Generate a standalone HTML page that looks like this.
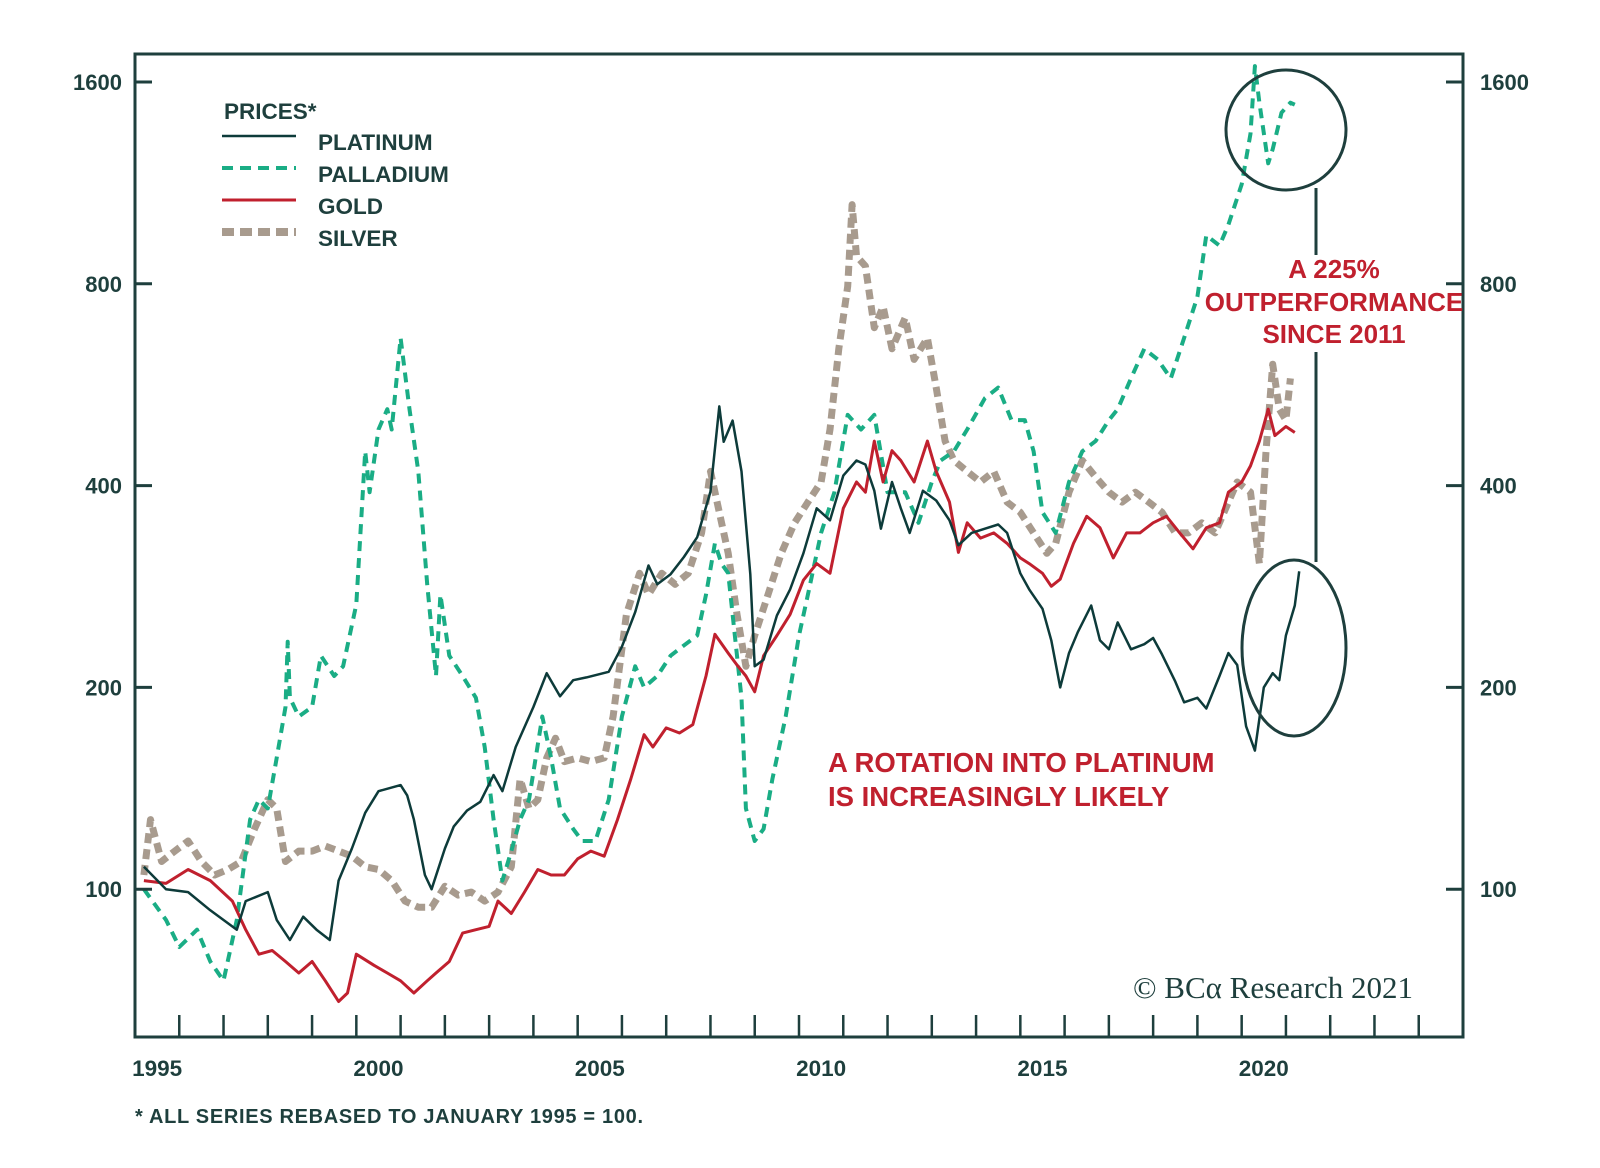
<!DOCTYPE html>
<html><head><meta charset="utf-8"><style>
html,body{margin:0;padding:0;background:#fff;}
svg{display:block;font-family:"Liberation Sans",sans-serif;}
</style></head><body>
<svg id="chart" width="1600" height="1168" viewBox="0 0 1600 1168" xmlns="http://www.w3.org/2000/svg">
<rect width="1600" height="1168" fill="#fff"/>
<g id="series"></g>
<rect x="135" y="54" width="1328" height="983" fill="none" stroke="#1e3f3d" stroke-width="3"/>
<g id="axes"></g>
<g font-weight="bold" font-size="22.5" fill="#1e3f3d">
<text x="224" y="119">PRICES*</text>
<line x1="222" y1="136" x2="296" y2="136" stroke="#0d3b3a" stroke-width="2.5"/>
<text x="318" y="150">PLATINUM</text>
<line x1="222" y1="168" x2="296" y2="168" stroke="#1aad85" stroke-width="4" stroke-dasharray="11 7"/>
<text x="318" y="182">PALLADIUM</text>
<line x1="222" y1="200" x2="296" y2="200" stroke="#c0202e" stroke-width="3"/>
<text x="318" y="214">GOLD</text>
<line x1="222" y1="232" x2="296" y2="232" stroke="#a89b8e" stroke-width="8" stroke-dasharray="12 6"/>
<text x="318" y="246">SILVER</text>
</g>
<g font-weight="bold" font-size="27.5" fill="#c0202e">
<text x="828" y="772">A ROTATION INTO PLATINUM</text>
<text x="828" y="806">IS INCREASINGLY LIKELY</text>
</g>
<g font-weight="bold" font-size="26" fill="#c0202e" text-anchor="middle">
<text x="1334" y="278">A 225%</text>
<text x="1334" y="311">OUTPERFORMANCE</text>
<text x="1334" y="343">SINCE 2011</text>
</g>
<ellipse cx="1286" cy="130" rx="60" ry="60" fill="none" stroke="#1e3f3d" stroke-width="3"/>
<ellipse cx="1294" cy="648" rx="52" ry="88" fill="none" stroke="#1e3f3d" stroke-width="3"/>
<line x1="1316" y1="188" x2="1316" y2="255" stroke="#1e3f3d" stroke-width="3"/>
<line x1="1316" y1="352" x2="1316" y2="562" stroke="#1e3f3d" stroke-width="3"/>
<text x="1133" y="998" font-family="'Liberation Serif',serif" font-size="31" fill="#1e3f3d">© BCα Research 2021</text>
<text x="135" y="1123" font-weight="bold" font-size="20" fill="#1e3f3d" textLength="508">* ALL SERIES REBASED TO JANUARY 1995 = 100.</text>
</svg>
<script>
const yTicks = [100, 200, 400, 800, 1600];
const xLabels = [1995, 2000, 2005, 2010, 2015, 2020];
const platDates = [1995.0,1995.5,1996,1996.5,1997.1,1997.3,1997.8,1998.0,1998.3,1998.6,1998.9,1999.2,1999.4,1999.7,2000,2000.3,2000.8,2000.95,2001.1,2001.35,2001.5,2001.8,2002,2002.3,2002.6,2002.9,2003.1,2003.4,2003.8,2004.1,2004.4,2004.7,2005,2005.5,2005.8,2006.1,2006.4,2006.6,2006.9,2007.2,2007.5,2007.8,2008.0,2008.1,2008.3,2008.5,2008.7,2008.8,2009,2009.3,2009.6,2009.9,2010.2,2010.5,2010.8,2011.1,2011.3,2011.5,2011.65,2011.9,2012.1,2012.3,2012.6,2012.9,2013.2,2013.4,2013.7,2014,2014.3,2014.5,2014.8,2015,2015.3,2015.5,2015.7,2015.9,2016.1,2016.4,2016.6,2016.8,2017,2017.3,2017.6,2017.8,2018,2018.3,2018.5,2018.8,2019,2019.3,2019.5,2019.7,2019.9,2020.1,2020.3,2020.5,2020.65,2020.8,2021,2021.1];
const platValues = [108,100,99,93,87,96,99,90,84,91,87,84,103,115,130,140,143,138,127,105,100,115,124,131,135,148,140,163,187,210,194,205,207,211,230,259,304,285,295,313,335,392,525,465,500,420,295,215,220,256,280,317,370,355,414,436,430,393,345,405,370,340,393,380,355,326,340,345,350,340,296,280,262,235,200,225,242,265,235,228,250,228,232,237,224,204,190,193,186,208,225,216,175,161,200,210,205,239,265,298];
const pallDates = [1995,1995.5,1995.8,1996.2,1996.5,1996.8,1997.1,1997.4,1997.6,1997.8,1998,1998.2,1998.25,1998.3,1998.5,1998.8,1999,1999.3,1999.5,1999.8,2000,2000.1,2000.3,2000.5,2000.6,2000.8,2001,2001.2,2001.4,2001.6,2001.7,2001.9,2002.2,2002.5,2002.7,2002.9,2003.1,2003.3,2003.5,2003.7,2004,2004.2,2004.4,2004.7,2004.9,2005.2,2005.5,2005.8,2006.1,2006.3,2006.6,2006.9,2007.2,2007.5,2007.7,2007.9,2008.05,2008.2,2008.4,2008.5,2008.6,2008.8,2009,2009.2,2009.5,2009.8,2010,2010.3,2010.6,2010.9,2011.2,2011.5,2011.8,2012.2,2012.5,2012.8,2013,2013.3,2013.6,2014,2014.3,2014.6,2014.9,2015.1,2015.3,2015.6,2015.9,2016.2,2016.5,2016.8,2017,2017.3,2017.6,2017.9,2018.2,2018.5,2018.8,2019,2019.3,2019.5,2019.8,2020.0,2020.1,2020.2,2020.4,2020.5,2020.7,2020.9,2021];
const pallValues = [100,90,82,87,78,73,90,127,136,132,157,187,234,193,181,187,223,208,215,266,450,391,485,520,485,664,520,420,285,208,275,223,208,193,163,127,103,114,127,136,181,157,132,123,118,118,136,181,215,200,208,223,231,239,275,328,306,296,223,193,132,118,123,146,181,239,275,340,391,510,485,510,391,391,352,405,436,450,485,540,560,501,501,450,365,340,405,450,466,501,520,578,640,617,578,664,765,945,912,980,1126,1340,1690,1490,1210,1270,1440,1490,1480];
const goldDates = [1995,1995.5,1996,1996.5,1997,1997.3,1997.6,1997.9,1998.2,1998.5,1998.8,1999.1,1999.4,1999.6,1999.8,2000.2,2000.5,2000.8,2001.1,2001.4,2001.6,2001.9,2002.2,2002.5,2002.8,2003,2003.3,2003.6,2003.9,2004.2,2004.5,2004.8,2005.1,2005.4,2005.7,2006,2006.3,2006.5,2006.8,2007.1,2007.4,2007.7,2007.9,2008.2,2008.4,2008.6,2008.8,2009,2009.3,2009.6,2009.9,2010.2,2010.5,2010.8,2011.1,2011.3,2011.5,2011.7,2011.9,2012.1,2012.4,2012.7,2012.9,2013.2,2013.4,2013.6,2013.9,2014.2,2014.5,2014.8,2015,2015.3,2015.5,2015.7,2016,2016.3,2016.6,2016.9,2017.2,2017.5,2017.8,2018.1,2018.4,2018.7,2019,2019.3,2019.5,2019.8,2020,2020.2,2020.4,2020.55,2020.8,2021];
const goldValues = [103,102,107,103,96,87,80,81,78,75,78,73,68,70,80,77,75,73,70,73,75,78,86,87,88,96,92,99,107,105,105,111,114,112,127,146,170,163,174,171,176,208,240,225,216,208,197,223,239,257,289,306,296,370,405,391,466,405,451,436,405,466,420,378,318,352,334,340,328,312,306,296,283,290,328,360,346,312,340,340,352,360,340,322,346,352,391,405,428,466,520,475,490,480];
const silvDates = [1995,1995.15,1995.4,1995.7,1996,1996.3,1996.6,1996.9,1997.2,1997.5,1997.8,1998,1998.2,1998.5,1998.8,1999.1,1999.4,1999.7,2000,2000.3,2000.6,2000.9,2001.2,2001.5,2001.8,2002.1,2002.4,2002.7,2003,2003.3,2003.5,2003.7,2003.9,2004.1,2004.3,2004.5,2004.8,2005.1,2005.4,2005.6,2005.9,2006.2,2006.4,2006.7,2007,2007.3,2007.6,2007.8,2008,2008.2,2008.4,2008.6,2008.8,2009.1,2009.4,2009.7,2010,2010.3,2010.5,2010.7,2010.9,2011.0,2011.1,2011.3,2011.5,2011.7,2011.9,2012.2,2012.4,2012.7,2012.9,2013.1,2013.3,2013.6,2013.9,2014.2,2014.5,2014.8,2015.1,2015.4,2015.6,2015.9,2016.2,2016.5,2016.8,2017.1,2017.4,2017.7,2018,2018.3,2018.6,2018.9,2019.2,2019.4,2019.7,2020,2020.2,2020.35,2020.5,2020.65,2020.8,2020.9];
const silvValues = [105,127,110,114,118,110,105,107,110,123,136,132,110,114,114,116,114,112,108,107,103,96,94,94,101,98,99,96,99,108,146,132,136,157,168,155,157,155,157,181,257,296,275,296,285,296,340,420,365,317,257,215,239,275,317,352,378,405,485,640,793,1050,880,850,688,740,640,712,617,664,560,466,436,420,405,420,378,365,340,317,328,391,436,412,391,378,391,378,365,340,340,352,340,365,405,391,306,450,607,520,501,578];

const NS = 'http://www.w3.org/2000/svg';
const L = 135, R = 1463, T = 54, B = 1037;
const x0 = 1995, x1 = 2025;
const seriesShift = 0.2;
function xs(t){ return L + (t - x0) / (x1 - x0) * (R - L); }
function ys(v){ return 82 + Math.log2(1600 / v) * 201.8; }

const axes = document.getElementById('axes');
yTicks.forEach(v => {
  const y = ys(v);
  const tl = document.createElementNS(NS,'line');
  tl.setAttribute('x1',L); tl.setAttribute('x2',L+17); tl.setAttribute('y1',y); tl.setAttribute('y2',y);
  tl.setAttribute('stroke','#1e3f3d'); tl.setAttribute('stroke-width','3');
  
  
  axes.appendChild(tl);
  const tr = document.createElementNS(NS,'line');
  tr.setAttribute('x1',R-17); tr.setAttribute('x2',R); tr.setAttribute('y1',y); tr.setAttribute('y2',y);
  tr.setAttribute('stroke','#1e3f3d'); tr.setAttribute('stroke-width','3');
  
  
  axes.appendChild(tr);
  const lt = document.createElementNS(NS,'text');
  lt.setAttribute('x',122); lt.setAttribute('y',y+8); lt.setAttribute('text-anchor','end');
  lt.setAttribute('font-weight','bold'); lt.setAttribute('font-size','22'); lt.setAttribute('fill','#1e3f3d');
  lt.textContent = v;
  
  
  axes.appendChild(lt);
  const rt = document.createElementNS(NS,'text');
  rt.setAttribute('x',1480); rt.setAttribute('y',y+8);
  rt.setAttribute('font-weight','bold'); rt.setAttribute('font-size','22'); rt.setAttribute('fill','#1e3f3d');
  rt.textContent = v;
  
  
  axes.appendChild(rt);
});
for (let yr = x0 + 1; yr < x1; yr++) {
  const x = xs(yr);
  const t = document.createElementNS(NS,'line');
  t.setAttribute('x1',x); t.setAttribute('x2',x); t.setAttribute('y1',B-22); t.setAttribute('y2',B);
  t.setAttribute('stroke','#1e3f3d'); t.setAttribute('stroke-width','2.5');
  
  
  axes.appendChild(t);
}
xLabels.forEach(yr => {
  const t = document.createElementNS(NS,'text');
  t.setAttribute('x', xs(yr + 0.5)); t.setAttribute('y', 1076); t.setAttribute('text-anchor','middle');
  t.setAttribute('font-weight','bold'); t.setAttribute('font-size','22.5'); t.setAttribute('fill','#1e3f3d');
  t.textContent = yr;
  
  
  axes.appendChild(t);
});

const g = document.getElementById('series');
function draw(dates, vals, color, width, dash, name){
  const p = document.createElementNS(NS,'path');
  let d = '';
  for (let i = 0; i < dates.length; i++) d += (i ? 'L' : 'M') + xs(dates[i] + seriesShift).toFixed(1) + ',' + ys(vals[i]).toFixed(1);
  p.setAttribute('d', d);
  p.setAttribute('fill','none'); p.setAttribute('stroke', color); p.setAttribute('stroke-width', width);
  p.setAttribute('stroke-linejoin','round');
  if (dash) p.setAttribute('stroke-dasharray', dash);
  
  
  g.appendChild(p);
}
draw(silvDates, silvValues, '#a89b8e', 7, '10 6', 'silver-line');
draw(pallDates, pallValues, '#1aad85', 4, '10 7', 'palladium-line');
draw(goldDates, goldValues, '#c0202e', 3, null, 'gold-line');
draw(platDates, platValues, '#0d3b3a', 2.5, null, 'platinum-line');
</script>
</body></html>
